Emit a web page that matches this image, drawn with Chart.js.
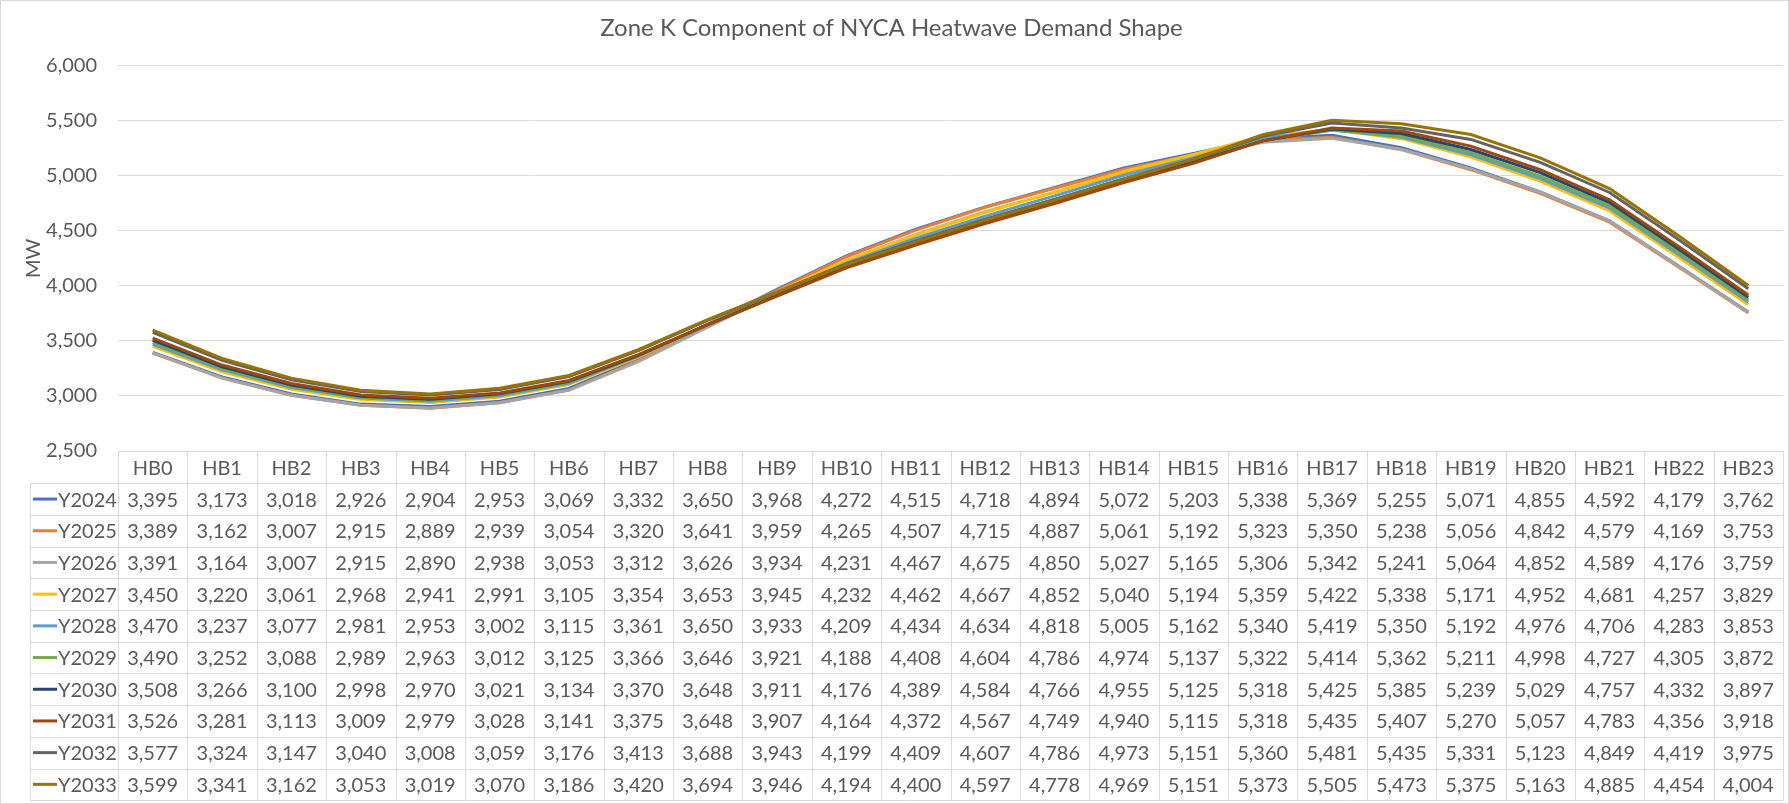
<!DOCTYPE html>
<html>
<head>
<meta charset="utf-8">
<title>Zone K Component of NYCA Heatwave Demand Shape</title>
<script src="https://cdn.jsdelivr.net/npm/chart.js@4.4.1/dist/chart.umd.min.js"></script>
<style>
  html, body { margin: 0; padding: 0; background: #ffffff; }
  canvas { display: block; }
</style>
</head>
<body>
<canvas id="heatwaveChart" width="1789" height="804"></canvas>
<script>
  // Categories (hour beginning) and series names
  const hours = ['HB0', 'HB1', 'HB2', 'HB3', 'HB4', 'HB5', 'HB6', 'HB7', 'HB8', 'HB9', 'HB10', 'HB11',
                 'HB12', 'HB13', 'HB14', 'HB15', 'HB16', 'HB17', 'HB18', 'HB19', 'HB20', 'HB21', 'HB22', 'HB23'];
  const years = ['Y2024', 'Y2025', 'Y2026', 'Y2027', 'Y2028', 'Y2029', 'Y2030', 'Y2031', 'Y2032', 'Y2033'];

  // MW values per year
  const y2024 = [3395, 3173, 3018, 2926, 2904, 2953, 3069, 3332, 3650, 3968, 4272, 4515, 4718, 4894, 5072, 5203, 5338, 5369, 5255, 5071, 4855, 4592, 4179, 3762];
  const y2025 = [3389, 3162, 3007, 2915, 2889, 2939, 3054, 3320, 3641, 3959, 4265, 4507, 4715, 4887, 5061, 5192, 5323, 5350, 5238, 5056, 4842, 4579, 4169, 3753];
  const y2026 = [3391, 3164, 3007, 2915, 2890, 2938, 3053, 3312, 3626, 3934, 4231, 4467, 4675, 4850, 5027, 5165, 5306, 5342, 5241, 5064, 4852, 4589, 4176, 3759];
  const y2027 = [3450, 3220, 3061, 2968, 2941, 2991, 3105, 3354, 3653, 3945, 4232, 4462, 4667, 4852, 5040, 5194, 5359, 5422, 5338, 5171, 4952, 4681, 4257, 3829];
  const y2028 = [3470, 3237, 3077, 2981, 2953, 3002, 3115, 3361, 3650, 3933, 4209, 4434, 4634, 4818, 5005, 5162, 5340, 5419, 5350, 5192, 4976, 4706, 4283, 3853];
  const y2029 = [3490, 3252, 3088, 2989, 2963, 3012, 3125, 3366, 3646, 3921, 4188, 4408, 4604, 4786, 4974, 5137, 5322, 5414, 5362, 5211, 4998, 4727, 4305, 3872];
  const y2030 = [3508, 3266, 3100, 2998, 2970, 3021, 3134, 3370, 3648, 3911, 4176, 4389, 4584, 4766, 4955, 5125, 5318, 5425, 5385, 5239, 5029, 4757, 4332, 3897];
  const y2031 = [3526, 3281, 3113, 3009, 2979, 3028, 3141, 3375, 3648, 3907, 4164, 4372, 4567, 4749, 4940, 5115, 5318, 5435, 5407, 5270, 5057, 4783, 4356, 3918];
  const y2032 = [3577, 3324, 3147, 3040, 3008, 3059, 3176, 3413, 3688, 3943, 4199, 4409, 4607, 4786, 4973, 5151, 5360, 5481, 5435, 5331, 5123, 4849, 4419, 3975];
  const y2033 = [3599, 3341, 3162, 3053, 3019, 3070, 3186, 3420, 3694, 3946, 4194, 4400, 4597, 4778, 4969, 5151, 5373, 5505, 5473, 5375, 5163, 4885, 4454, 4004];

  // Y axis tick labels
  const yTicks = [2500, 3000, 3500, 4000, 4500, 5000, 5500, 6000];

  const seriesValues = [y2024, y2025, y2026, y2027, y2028, y2029, y2030, y2031, y2032, y2033];
  const seriesColors = ['#4472C4', '#ED7D31', '#A5A5A5', '#FFC000', '#5B9BD5',
                        '#70AD47', '#264478', '#9E480E', '#636363', '#997300'];

  const textColor = '#595959';
  const lineGray = '#d9d9d9';
  const baseFont = 'Lato, "Open Sans", sans-serif';
  const fmt = v => Number(v).toLocaleString('en-US');

  // Excel style data table under the plot area
  const dataTable = {
    id: 'dataTable',
    afterDraw(chart) {
      const ctx = chart.ctx;
      const xs = chart.scales.x;
      const area = chart.chartArea;
      const rowH = 31.7;
      const keyLeft = 30;
      const top = Math.round(area.bottom) + 0.5;
      const step = xs.getPixelForValue(1) - xs.getPixelForValue(0);
      const bottom = top + rowH * (years.length + 1);

      ctx.save();
      ctx.strokeStyle = lineGray;
      ctx.lineWidth = 1;
      ctx.beginPath();
      // header top line
      ctx.moveTo(area.left, top);
      ctx.lineTo(area.right, top);
      // row lines
      for (let r = 1; r <= years.length + 1; r++) {
        const y = Math.round(top + r * rowH) + 0.5;
        ctx.moveTo(keyLeft, y);
        ctx.lineTo(area.right, y);
      }
      // column lines
      for (let i = 0; i <= hours.length; i++) {
        const x = Math.round(xs.getPixelForValue(0) - step / 2 + i * step) + 0.5;
        ctx.moveTo(x, top);
        ctx.lineTo(x, bottom);
      }
      // left edge of the series label column
      ctx.moveTo(keyLeft + 0.5, Math.round(top + rowH) + 0.5);
      ctx.lineTo(keyLeft + 0.5, bottom);
      ctx.stroke();

      ctx.font = '20px ' + baseFont;
      ctx.fillStyle = textColor;
      ctx.textBaseline = 'middle';
      ctx.textAlign = 'center';
      hours.forEach((h, i) => {
        ctx.fillText(h, xs.getPixelForValue(i), top + rowH / 2 + 1);
      });

      years.forEach((name, r) => {
        const cy = top + rowH * (r + 1) + rowH / 2 + 1;
        // legend key
        ctx.strokeStyle = seriesColors[r];
        ctx.lineWidth = 3;
        ctx.beginPath();
        ctx.moveTo(keyLeft + 3, cy - 1);
        ctx.lineTo(keyLeft + 27, cy - 1);
        ctx.stroke();
        ctx.textAlign = 'left';
        ctx.fillText(name, keyLeft + 28, cy);
        ctx.textAlign = 'center';
        seriesValues[r].forEach((v, i) => {
          ctx.fillText(fmt(v), xs.getPixelForValue(i), cy);
        });
      });

      // chart border
      ctx.strokeStyle = lineGray;
      ctx.lineWidth = 1;
      ctx.strokeRect(0.5, 0.5, chart.width - 1, chart.height - 1);
      ctx.restore();
    }
  };

  const ctx = document.getElementById('heatwaveChart').getContext('2d');
  const heatwaveChart = new Chart(ctx, {
    type: 'line',
    data: {
      labels: hours,
      datasets: years.map((name, i) => ({
        label: name,
        data: seriesValues[i],
        borderColor: seriesColors[i],
        backgroundColor: seriesColors[i],
        borderWidth: 3,
        pointRadius: 0,
        tension: 0,
        fill: false,
        order: years.length - i // later years drawn on top
      }))
    },
    options: {
      responsive: false,
      animation: false,
      devicePixelRatio: 1,
      layout: {
        padding: { left: 0, right: 6, top: 0, bottom: 353 }
      },
      scales: {
        x: {
          display: false,
          offset: true
        },
        y: {
          min: yTicks[0],
          max: yTicks[yTicks.length - 1],
          afterBuildTicks: scale => {
            scale.ticks = yTicks.map(v => ({ value: v }));
          },
          afterFit: scale => {
            scale.width = 118;
          },
          border: { display: false },
          grid: { color: lineGray, lineWidth: 1, drawTicks: false },
          ticks: {
            padding: 21,
            color: textColor,
            font: { family: baseFont, size: 20 },
            callback: v => fmt(v)
          },
          title: {
            display: true,
            text: 'MW',
            color: textColor,
            font: { family: baseFont, size: 20 },
            padding: { top: 22, bottom: 0 }
          }
        }
      },
      plugins: {
        legend: { display: false },
        tooltip: { enabled: false },
        title: {
          display: true,
          text: 'Zone K Component of NYCA Heatwave Demand Shape',
          color: textColor,
          font: { family: baseFont, size: 24, weight: 'normal' },
          padding: { top: 14, bottom: 23 }
        }
      }
    },
    plugins: [dataTable]
  });
</script>
</body>
</html>
